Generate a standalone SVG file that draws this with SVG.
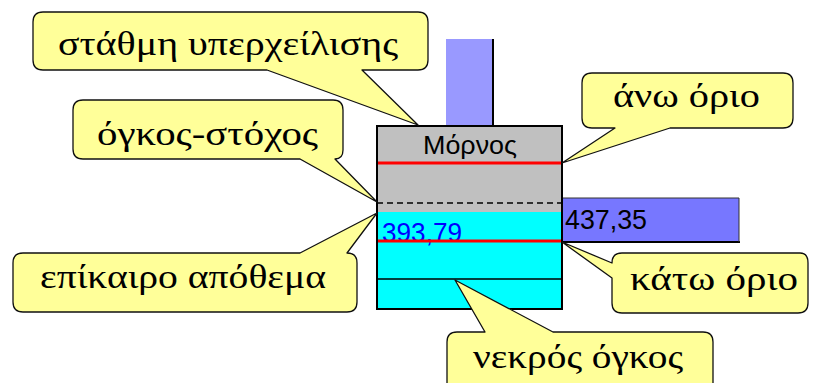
<svg xmlns="http://www.w3.org/2000/svg" width="813" height="383" viewBox="0 0 813 383">
<style>
.call{fill:#FFFF99;stroke:#111;stroke-width:1.3;stroke-linejoin:round}
.lbl{font-family:"Liberation Serif","DejaVu Serif",serif;font-size:33px;fill:#000}
.num{font-family:"Liberation Sans","DejaVu Sans",sans-serif;font-size:27px}
.red{stroke:#FF0000;stroke-width:3}
</style>
<rect width="813" height="383" fill="#fff"/>
<g id="reservoir">
<rect x="446" y="39" width="47" height="87" fill="#9999FF"/>
<line x1="493" y1="39" x2="493" y2="126" stroke="#000" stroke-width="2"/>
<rect x="562" y="198" width="177" height="44" fill="#7777FF"/>
<line x1="562" y1="242" x2="740" y2="242" stroke="#000" stroke-width="2"/>
<line x1="739" y1="198" x2="739" y2="242" stroke="#333" stroke-width="1"/>
<line x1="562" y1="198" x2="739" y2="198" stroke="#333" stroke-width="1"/>
<rect x="377" y="126" width="185" height="86" fill="#C0C0C0"/>
<rect x="377" y="212" width="185" height="97" fill="#00FFFF"/>
<line x1="377" y1="279" x2="562" y2="279" stroke="#000" stroke-width="1.5"/>
<line x1="377" y1="203" x2="562" y2="203" stroke="#000" stroke-width="1.5" stroke-dasharray="6 4"/>
<line class="red" x1="377" y1="163" x2="562" y2="163"/>
<text class="num" x="382" y="242" fill="#0000FF" textLength="80" lengthAdjust="spacingAndGlyphs">393,79</text>
<line class="red" x1="377" y1="241" x2="562" y2="241"/>
<rect x="377" y="126" width="185" height="183" fill="none" stroke="#000" stroke-width="2"/>
<text x="423" y="154" font-family="'Liberation Sans','DejaVu Sans',sans-serif" font-size="26" textLength="94" lengthAdjust="spacingAndGlyphs">Μόρνος</text>
<text class="num" x="565" y="229" fill="#000" textLength="82" lengthAdjust="spacingAndGlyphs">437,35</text>
</g>
<g id="connectors"></g>
<g id="c1">
<path class="call" d="M43,12 H418 Q428,12 428,22 V60 Q428,70 418,70 H362 L418,125 L267,70 H43 Q33,70 33,60 V22 Q33,12 43,12 Z"/>
<text class="lbl" x="58" y="55" textLength="340" lengthAdjust="spacingAndGlyphs">στάθμη υπερχείλισης</text>
</g>
<g id="c2">
<path class="call" d="M83,100 H333 Q343,100 343,110 V150 Q343,159 335,159 L377,202 L300,159 H83 Q73,159 73,149 V110 Q73,100 83,100 Z"/>
<text class="lbl" x="97" y="145" textLength="221" lengthAdjust="spacingAndGlyphs">όγκος-στόχος</text>
</g>
<g id="c3">
<path class="call" d="M23,253 H300 L377,213 L347,253 Q357,253 357,263 V302 Q357,312 347,312 H23 Q13,312 13,302 V263 Q13,253 23,253 Z"/>
<text class="lbl" x="40" y="288" textLength="286" lengthAdjust="spacingAndGlyphs">επίκαιρο απόθεμα</text>
</g>
<g id="c4">
<path class="call" d="M592,73 H783 Q793,73 793,83 V118 Q793,128 783,128 H670 L562,163 L615,128 H592 Q582,128 582,118 V83 Q582,73 592,73 Z"/>
<text class="lbl" x="613" y="107" textLength="147" lengthAdjust="spacingAndGlyphs">άνω όριο</text>
</g>
<g id="c5">
<path class="call" d="M622,253 H800 Q808,253 808,263 V303 Q808,313 798,313 H622 Q612,313 612,303 V278 L562,242 L612,263 Q612,253 622,253 Z"/>
<text class="lbl" x="630" y="290" textLength="168" lengthAdjust="spacingAndGlyphs">κάτω όριο</text>
</g>
<g id="c6">
<path class="call" d="M457,332 H485 L455,280 L553,332 H703 Q713,332 713,342 V395 H447 V342 Q447,332 457,332 Z"/>
<text class="lbl" x="473" y="368" textLength="210" lengthAdjust="spacingAndGlyphs">νεκρός όγκος</text>
</g>
</svg>
